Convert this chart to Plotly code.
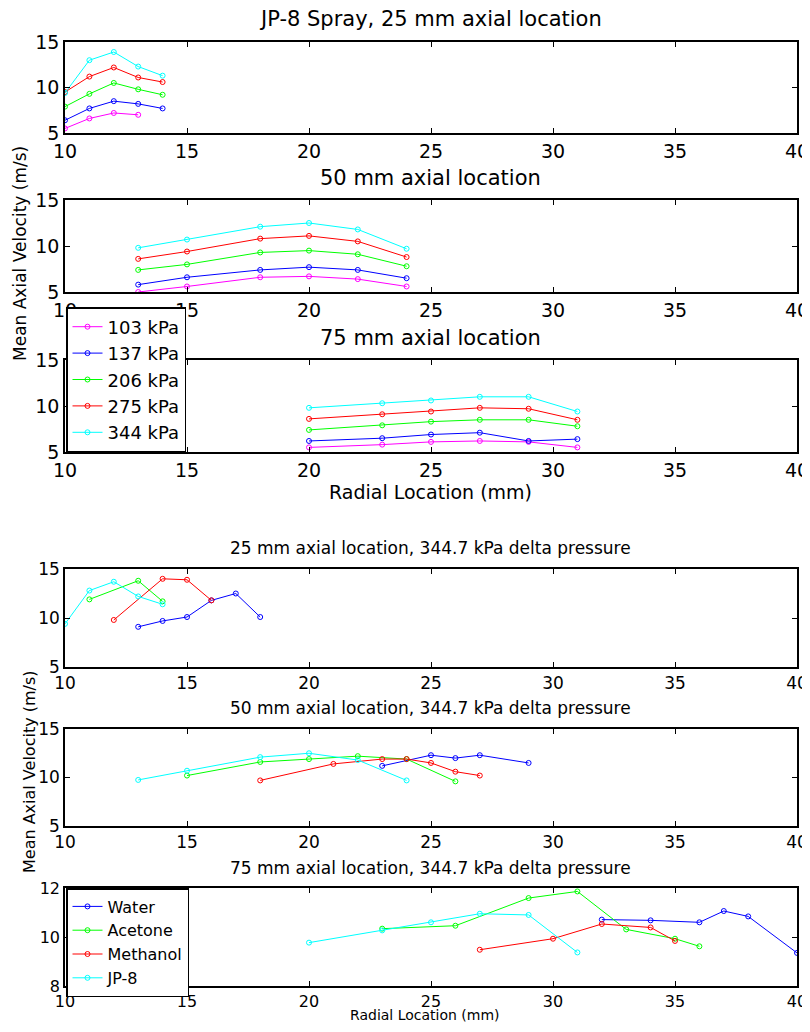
import plotly.graph_objects as go

# ---------------- data ----------------
# Top figure: JP-8 spray, series by pressure
pressures = ["103 kPa", "137 kPa", "206 kPa", "275 kPa", "344 kPa"]
p_colors = ["#FF00FF", "#0000FF", "#00FF00", "#FF0000", "#00FFFF"]

x25 = [10, 11, 12, 13, 14]
y25_103 = [5.5, 6.6, 7.2, 7.0]
y25_137 = [6.4, 7.7, 8.5, 8.2, 7.7]
y25_206 = [7.9, 9.3, 10.5, 9.8, 9.2]
y25_275 = [9.5, 11.2, 12.2, 11.1, 10.6]
y25_344 = [9.4, 13.0, 13.9, 12.3, 11.3]

x50 = [13, 15, 18, 20, 22, 24]
y50_103 = [5.0, 5.6, 6.6, 6.7, 6.4, 5.6]
y50_137 = [5.8, 6.6, 7.4, 7.7, 7.4, 6.5]
y50_206 = [7.4, 8.0, 9.3, 9.5, 9.1, 7.8]
y50_275 = [8.6, 9.4, 10.8, 11.1, 10.5, 8.8]
y50_344 = [9.8, 10.7, 12.1, 12.5, 11.8, 9.7]

x75 = [20, 23, 25, 27, 29, 31]
y75_103 = [5.5, 5.8, 6.1, 6.2, 6.1, 5.5]
y75_137 = [6.2, 6.5, 6.9, 7.1, 6.2, 6.4]
y75_206 = [7.4, 7.9, 8.3, 8.5, 8.5, 7.8]
y75_275 = [8.6, 9.1, 9.4, 9.8, 9.7, 8.5]
y75_344 = [9.8, 10.3, 10.6, 11.0, 11.0, 9.4]

# Bottom figure: fluids at 344.7 kPa
fluids = ["Water", "Acetone", "Methanol", "JP-8"]
f_colors = ["#0000FF", "#00FF00", "#FF0000", "#00FFFF"]

b25_water_x = [13, 14, 15, 16, 17, 18]
b25_water_y = [9.1, 9.7, 10.1, 11.8, 12.5, 10.1]
b25_acet_x = [11, 13, 14]
b25_acet_y = [11.9, 13.8, 11.7]
b25_meth_x = [12, 14, 15, 16]
b25_meth_y = [9.8, 14.0, 13.9, 11.8]
b25_jp8_x = [10, 11, 12, 13, 14]
b25_jp8_y = [9.4, 12.8, 13.7, 12.2, 11.4]

b50_water_x = [23, 25, 26, 27, 29]
b50_water_y = [11.2, 12.3, 12.0, 12.3, 11.5]
b50_acet_x = [15, 18, 20, 22, 24, 26]
b50_acet_y = [10.2, 11.6, 11.9, 12.2, 11.9, 9.6]
b50_meth_x = [18, 21, 23, 24, 25, 26, 27]
b50_meth_y = [9.7, 11.4, 11.9, 11.9, 11.5, 10.6, 10.2]
b50_jp8_x = [13, 15, 18, 20, 22, 24]
b50_jp8_y = [9.75, 10.7, 12.1, 12.5, 11.8, 9.7]

b75_water_x = [32, 34, 36, 37, 38, 40]
b75_water_y = [10.71, 10.68, 10.6, 11.06, 10.84, 9.35]
b75_acet_x = [23, 26, 29, 31, 33, 35, 36]
b75_acet_y = [10.34, 10.46, 11.59, 11.86, 10.31, 9.93, 9.62]
b75_meth_x = [27, 30, 32, 34, 35]
b75_meth_y = [9.48, 9.93, 10.53, 10.39, 9.84]
b75_jp8_x = [20, 23, 25, 27, 29, 31]
b75_jp8_y = [9.77, 10.27, 10.6, 10.95, 10.9, 9.37]

x_ticks = [10, 15, 20, 25, 30, 35, 40]

# ---------------- layout helpers ----------------
# page has an 8px body margin; figure is sized so that it fits the 810x1032 window
OFF = 8
W, H = 810 - OFF, 1032 - 2 * OFF
X0, X1 = 65, 797
FONT = "DejaVu Sans, Arial, sans-serif"


def px(x):
    return (x - OFF) / W


def py(y):
    return 1 - (y - OFF) / H


panels = [
    # (top px, bottom px, yrange, yticks, tick font size)
    (42, 133, [5, 15], [5, 10, 15], 19),
    (200, 292, [5, 15], [5, 10, 15], 19),
    (360, 452, [5, 15], [5, 10, 15], 19),
    (569, 667, [5, 15], [5, 10, 15], 17),
    (729, 826, [5, 15], [5, 10, 15], 17),
    (888, 986, [8, 12], [8, 10, 12], 16),
]

fig = go.Figure()

top_sets = [
    (x25, [y25_103, y25_137, y25_206, y25_275, y25_344]),
    (x50, [y50_103, y50_137, y50_206, y50_275, y50_344]),
    (x75, [y75_103, y75_137, y75_206, y75_275, y75_344]),
]
for pi, (xs, ys_list) in enumerate(top_sets):
    ax = "" if pi == 0 else str(pi + 1)
    for si, ys in enumerate(ys_list):
        fig.add_trace(go.Scatter(
            x=xs[:len(ys)], y=ys, mode="lines+markers",
            name=pressures[si],
            line=dict(color=p_colors[si], width=1),
            marker=dict(symbol="circle-open", size=5, color=p_colors[si], line=dict(width=1)),
            xaxis="x" + ax, yaxis="y" + ax,
            legend="legend", showlegend=(pi == 2),
        ))

bottom_sets = [
    [(b25_water_x, b25_water_y), (b25_acet_x, b25_acet_y), (b25_meth_x, b25_meth_y), (b25_jp8_x, b25_jp8_y)],
    [(b50_water_x, b50_water_y), (b50_acet_x, b50_acet_y), (b50_meth_x, b50_meth_y), (b50_jp8_x, b50_jp8_y)],
    [(b75_water_x, b75_water_y), (b75_acet_x, b75_acet_y), (b75_meth_x, b75_meth_y), (b75_jp8_x, b75_jp8_y)],
]
for pj, sets in enumerate(bottom_sets):
    ax = str(pj + 4)
    for si, (xs, ys) in enumerate(sets):
        fig.add_trace(go.Scatter(
            x=xs, y=ys, mode="lines+markers",
            name=fluids[si],
            line=dict(color=f_colors[si], width=1),
            marker=dict(symbol="circle-open", size=5, color=f_colors[si], line=dict(width=1)),
            xaxis="x" + ax, yaxis="y" + ax,
            legend="legend2", showlegend=(pj == 2),
        ))

layout = dict(
    width=W, height=H,
    margin=dict(l=0, r=0, t=0, b=0, pad=0, autoexpand=False),
    paper_bgcolor="white", plot_bgcolor="white",
    font=dict(family=FONT, color="black"),
)
for i, (top, bot, yr, yt, fs) in enumerate(panels):
    n = "" if i == 0 else str(i + 1)
    common = dict(
        showline=True, linecolor="black", linewidth=1.5,
        mirror="ticks", ticks="inside", ticklen=5, tickcolor="black",
        showgrid=False, zeroline=False, automargin=False,
        ticklabeloverflow="allow",
        tickfont=dict(size=fs, color="black", family=FONT),
    )
    layout["xaxis" + n] = dict(domain=[px(X0), px(X1)], range=[10, 40], tickvals=x_ticks,
                               anchor="y" + n, **common)
    layout["yaxis" + n] = dict(domain=[py(bot), py(top)], range=yr, tickvals=yt,
                               anchor="x" + n, **common)

layout["legend"] = dict(
    x=px(X0 + 1), y=py(307), xanchor="left", yanchor="top",
    bgcolor="white", bordercolor="black", borderwidth=1.5,
    font=dict(size=18, color="black", family=FONT), itemwidth=30, tracegroupgap=0,
)
layout["legend2"] = dict(
    x=px(X0 + 1), y=py(888), xanchor="left", yanchor="top",
    bgcolor="white", bordercolor="black", borderwidth=1.5,
    font=dict(size=16, color="black", family=FONT), itemwidth=30, tracegroupgap=0,
)

titles = [
    ("JP-8 Spray, 25 mm axial location", 19, 21),
    ("50 mm axial location", 178, 21),
    ("75 mm axial location", 338, 21),
    ("25 mm axial location, 344.7 kPa delta pressure", 548, 17),
    ("50 mm axial location, 344.7 kPa delta pressure", 708, 17),
    ("75 mm axial location, 344.7 kPa delta pressure", 868, 17),
]
ann = []
for txt, yy, fs in titles:
    ann.append(dict(text=txt, x=px((X0 + X1) / 2), y=py(yy), xref="paper", yref="paper",
                    xanchor="center", yanchor="middle", showarrow=False,
                    font=dict(size=fs, color="black", family=FONT)))
ann.append(dict(text="Mean Axial Velocity (m/s)", x=px(20), y=py(254), xref="paper", yref="paper",
                xanchor="center", yanchor="middle", showarrow=False, textangle=-90,
                font=dict(size=17, color="black", family=FONT)))
ann.append(dict(text="Radial Location (mm)", x=px(430), y=py(492), xref="paper", yref="paper",
                xanchor="center", yanchor="middle", showarrow=False,
                font=dict(size=19, color="black", family=FONT)))
ann.append(dict(text="Mean Axial Velocity (m/s)", x=px(29), y=py(772), xref="paper", yref="paper",
                xanchor="center", yanchor="middle", showarrow=False, textangle=-90,
                font=dict(size=16, color="black", family=FONT)))
ann.append(dict(text="Radial Location (mm)", x=px(425), y=py(1015), xref="paper", yref="paper",
                xanchor="center", yanchor="middle", showarrow=False,
                font=dict(size=14, color="black", family=FONT)))
layout["annotations"] = ann

fig.update_layout(**layout)
fig.write_html("out.html")
